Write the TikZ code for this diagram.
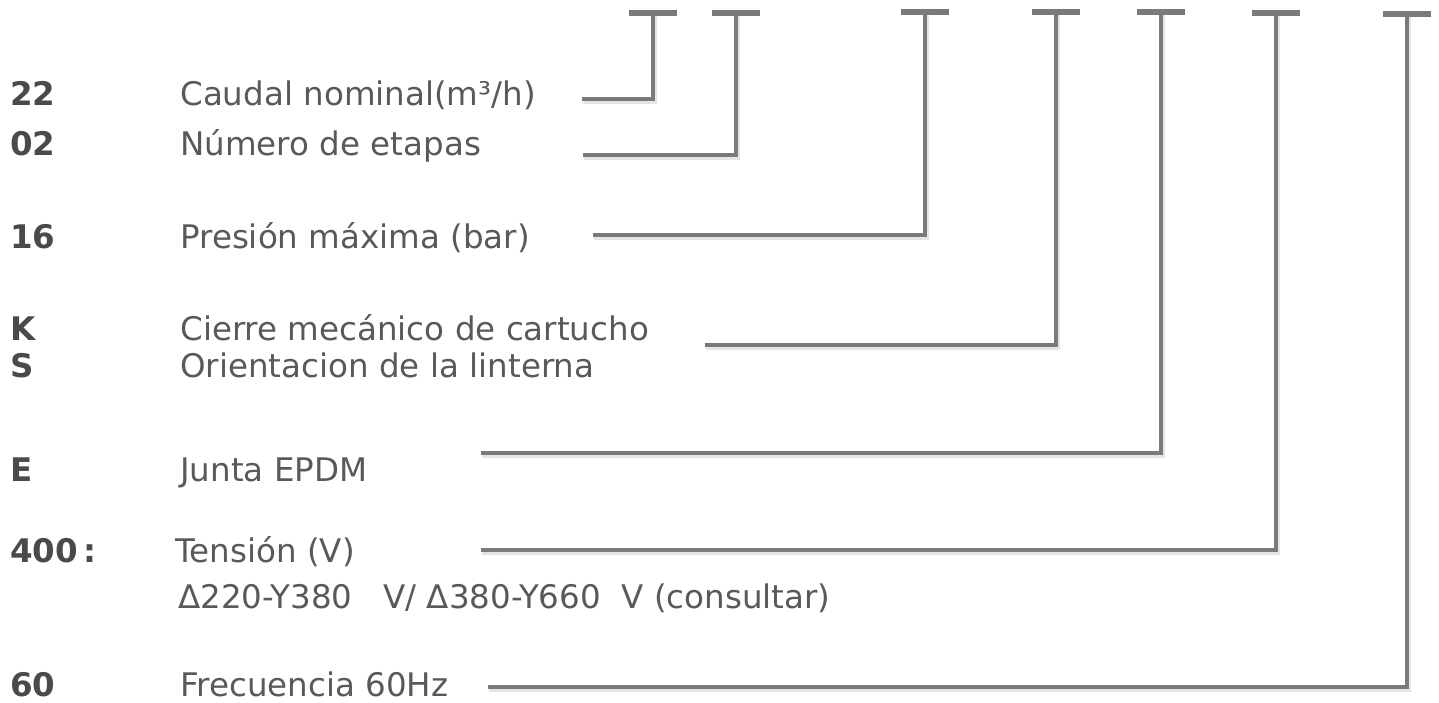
\documentclass[tikz,border=0pt]{standalone}
\usepackage{fontspec}
\setmainfont{DejaVu Sans}
\usetikzlibrary{positioning}
\definecolor{numgray}{HTML}{4A4A4A}
\definecolor{txtgray}{HTML}{595959}
\definecolor{linegray}{HTML}{7A7A7A}

\begin{document}
\begin{tikzpicture}[
  every node/.style={font=\fontsize{18.5}{22}\selectfont, inner sep=0pt},
  num/.style={anchor=base west, text=numgray, font=\fontsize{18.5}{22}\selectfont\bfseries},
  lbl/.style={anchor=base west, text=txtgray},
  lead/.style={draw=linegray, line width=2.5pt,
    preaction={draw=black!10, line width=2.5pt, transform canvas={xshift=0.8pt, yshift=-1.6pt}}},
  tbar/.style={draw=linegray, line width=3pt}
]
\useasboundingbox (0,0) rectangle (28.78,-14.06);

% code positions along the top
\coordinate (t22) at (13.06,-0.26);
\coordinate (t02) at (14.72,-0.26);
\coordinate (t16) at (18.50,-0.24);
\coordinate (tK)  at (21.12,-0.24);
\coordinate (tE)  at (23.22,-0.24);
\coordinate (t400) at (25.52,-0.26);
\coordinate (t60) at (28.14,-0.28);
\foreach \t in {t22,t02,t16,tK,tE,t400,t60}
  \draw[tbar] ([xshift=-0.48cm]\t) -- ([xshift=0.48cm]\t);

% legend
\node[num] (n22) at (0.2,-2.12) {22};
\node[lbl] (l22) at (3.6,-2.12) {Caudal nominal(m³/h)};
\node[num] (n02) at (0.2,-3.10) {02};
\node[lbl] (l02) at (3.6,-3.10) {Número de etapas};
\node[num] (n16) at (0.2,-4.96) {16};
\node[lbl] (l16) at (3.6,-4.96) {Presión máxima (bar)};
\node[num] (nK) at (0.2,-6.80) {K};
\node[lbl] (lK) at (3.6,-6.80) {Cierre mecánico de cartucho};
\node[num] (nS) at (0.2,-7.54) {S};
\node[lbl] (lS) at (3.6,-7.54) {Orientacion de la linterna};
\node[num] (nE) at (0.2,-9.62) {E};
\node[lbl] (lE) at (3.6,-9.62) {Junta EPDM};
\node[num] (n400) at (0.2,-11.24) {400\,:};
\node[lbl] (l400) at (3.5,-11.24) {Tensión (V)};
\node[lbl] (lV) at (3.56,-12.16) {Δ220-Y380\ \ \ V/ Δ380-Y660\ \ V (consultar)};
\node[num] (n60) at (0.2,-13.92) {60};
\node[lbl] (l60) at (3.6,-13.92) {Frecuencia 60Hz};

% leaders
\coordinate (s22) at (11.64,-1.98);
\coordinate (s02) at (11.66,-3.10);
\coordinate (s16) at (11.86,-4.70);
\coordinate (sK)  at (14.10,-6.90);
\coordinate (sE)  at (9.62,-9.06);
\coordinate (s400) at (9.62,-11.00);
\coordinate (s60) at (9.76,-13.74);
\foreach \s/\t in {s22/t22,s02/t02,s16/t16,sK/tK,sE/tE,s400/t400,s60/t60}
  \draw[lead] (\s) -| (\t);
\end{tikzpicture}
\end{document}
